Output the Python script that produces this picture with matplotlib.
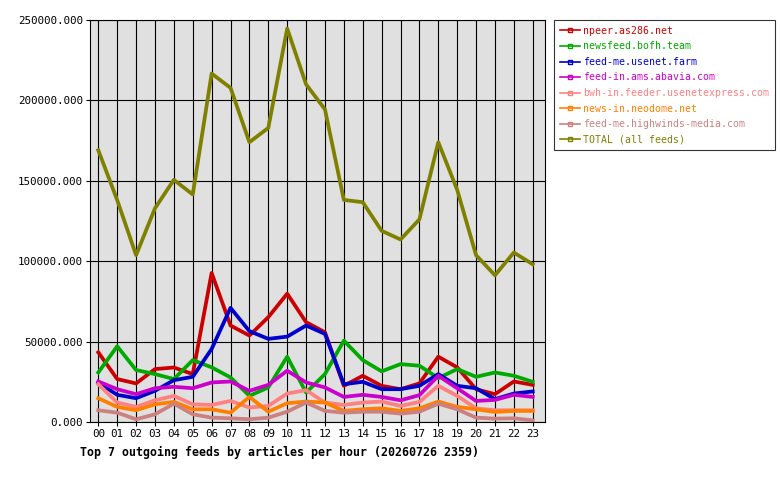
"""Top outgoing feeds per hour, redrawn from the innfeed stats graph."""

import matplotlib
matplotlib.use("Agg")
import matplotlib.pyplot as plt
from matplotlib.lines import Line2D
from matplotlib.ticker import FuncFormatter, MultipleLocator

hours = [f"{h:02d}" for h in range(24)]

npeer = [43300, 26700, 24000, 32900, 33900, 29800, 92700, 60000, 53750, 65200,
         79800, 62100, 55800, 22500, 28750, 22500, 20400, 24000, 40600, 34000,
         20400, 17300, 25200, 23100]
bofh = [30800, 47100, 32300, 29800, 26700, 38500, 34000, 27700, 16250, 21500,
        40600, 18300, 29800, 50600, 38500, 31500, 36000, 35000, 27300, 32900,
        28100, 30800, 28750, 25000]
usenet_farm = [24500, 16900, 14800, 19400, 26000, 28100, 45400, 71000, 56500, 51700,
               53100, 60000, 54800, 23500, 25000, 20400, 20400, 22500, 29800, 22500,
               21000, 14200, 17700, 19000]
abavia = [25200, 20400, 17300, 21000, 21900, 21000, 24600, 25200, 19400, 23100,
          31900, 24600, 21500, 15600, 16900, 15600, 13500, 16700, 28750, 21000,
          13100, 13750, 16900, 15600]
usenetexpress = [23500, 12100, 9400, 13500, 16250, 11000, 10600, 13100, 9000, 10000,
                 17700, 19800, 12100, 10600, 12100, 12700, 10000, 12500, 22500, 16250,
                 8500, 7300, 7300, 7300]
neodome = [14800, 9400, 7300, 11000, 12500, 7900, 7900, 5800, 15600, 6400,
           11700, 12700, 12100, 6900, 7900, 8500, 6900, 8500, 12700, 9400,
           7900, 6250, 6900, 6900]
highwinds = [7300, 5800, 1700, 4800, 11400, 4800, 2700, 2300, 1700, 2700,
             6400, 12100, 6900, 5800, 6400, 6400, 5200, 6400, 11400, 7900,
             2700, 2100, 2300, 1000]
total = [169000, 138000, 103750, 132900, 150600, 141500, 216700, 207800, 174000, 182900,
         244700, 210000, 194400, 138100, 136700, 118900, 113500, 126000, 174000, 144400,
         103750, 91250, 105400, 98100]

feeds = [
    ("npeer.as286.net", npeer, "#cc0000"),
    ("newsfeed.bofh.team", bofh, "#00aa00"),
    ("feed-me.usenet.farm", usenet_farm, "#0000cc"),
    ("feed-in.ams.abavia.com", abavia, "#cc00cc"),
    ("bwh-in.feeder.usenetexpress.com", usenetexpress, "#ff8080"),
    ("news-in.neodome.net", neodome, "#ff8000"),
    ("feed-me.highwinds-media.com", highwinds, "#cc8080"),
    ("TOTAL (all feeds)", total, "#808000"),
]

mono = "DejaVu Sans Mono"

fig = plt.figure(figsize=(7.8, 4.8), dpi=100)
ax = fig.add_axes([90 / 780, 58 / 480, 455 / 780, 402 / 480])
ax.set_facecolor("#e0e0e0")

x = list(range(len(hours)))
for name, values, color in feeds:
    ax.plot(x, values, color=color, linewidth=2.7, label=name)

ax.set_xlim(-0.44, 23.65)
ax.set_ylim(0, 250000)
ax.set_xticks(x)
ax.set_xticklabels(hours, family=mono, fontsize=7.8)
ax.yaxis.set_major_locator(MultipleLocator(50000))
ax.yaxis.set_major_formatter(FuncFormatter(lambda v, p: f"{v:.3f}"))
for lab in ax.get_yticklabels():
    lab.set_family(mono)
    lab.set_fontsize(7.8)

ax.tick_params(direction="out", length=3, width=0.8, color="black", pad=2)
ax.grid(True, color="black", linewidth=0.8)
ax.set_axisbelow(True)
for spine in ax.spines.values():
    spine.set_color("black")
    spine.set_linewidth(0.8)

fig.text(80 / 780, 1 - 452 / 480,
         "Top 7 outgoing feeds by articles per hour (20260726 2359)",
         family=mono, fontsize=8.4, fontweight="bold", va="center", ha="left")

# legend proxies: thin line with a small open square in the middle
proxies = [Line2D([0, 1], [0, 0], color=c, linewidth=1.2, marker="s",
                  markersize=2.8, markerfacecolor="none")
           for _, _, c in feeds]
leg = ax.legend(proxies, [n for n, _, _ in feeds], loc="upper left",
                bbox_to_anchor=(554 / 780, 1 - 20 / 480),
                bbox_transform=fig.transFigure,
                prop={"family": mono, "size": 7.1},
                labelcolor="linecolor", fancybox=False, shadow=False,
                frameon=True, borderpad=0.6, labelspacing=0.56,
                handlelength=2.0, handletextpad=0.35, borderaxespad=0,
                numpoints=1)
leg.get_frame().set_edgecolor("black")
leg.get_frame().set_linewidth(0.8)

fig.savefig("out.png", dpi=100)
